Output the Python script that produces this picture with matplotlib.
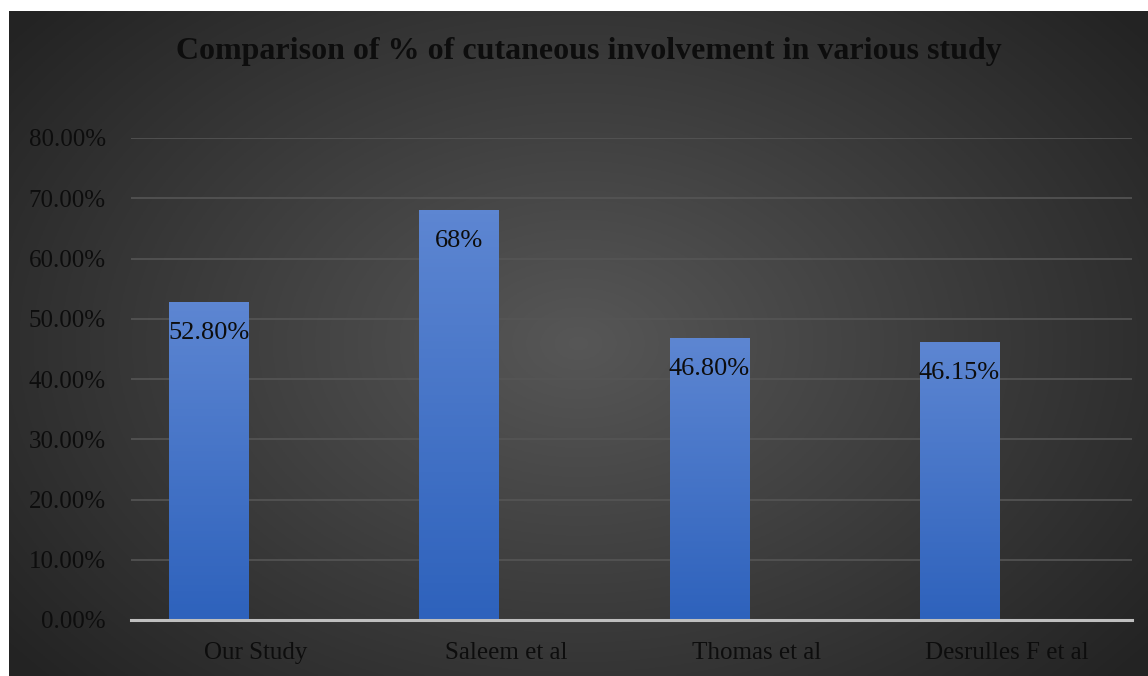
import matplotlib
matplotlib.use("Agg")
import matplotlib.pyplot as plt
import numpy as np
from matplotlib.ticker import FuncFormatter

studies = ["Our Study", "Saleem et al", "Thomas et al", "Desrulles F et al"]
percent = [52.80, 68.0, 46.80, 46.15]
labels = ["52.80%", "68%", "46.80%", "46.15%"]

plt.rcParams['font.family'] = ['Liberation Serif', 'DejaVu Serif']

fig = plt.figure(figsize=(11.48, 6.76), dpi=100)
fig.patch.set_facecolor('white')

# dark radial gradient background
bg = fig.add_axes([9 / 1148, 0, 1139 / 1148, 665 / 676])
bg.set_axis_off()
yy, xx = np.mgrid[-1:1:300j, -1:1:500j]
r = np.sqrt((xx * 0.95) ** 2 + (yy * 0.8) ** 2)
shade = 0.34 - 0.2 * np.clip(r / 1.2, 0, 1)
bg.imshow(np.dstack([shade] * 3), aspect='auto', extent=[0, 1, 0, 1])
bg.set_xlim(0, 1)
bg.set_ylim(0, 1)

ax = fig.add_axes([131 / 1148, 56 / 676, 1001 / 1148, 482 / 676])
ax.patch.set_alpha(0)

x = np.arange(len(studies))
offset = -0.19
width = 0.316
bars = ax.bar(x + offset, percent, width, color='none', zorder=3)

grad = np.linspace(0, 1, 100).reshape(-1, 1)
top_c = np.array([0x5d, 0x86, 0xd2]) / 255
bot_c = np.array([0x2e, 0x62, 0xbc]) / 255
for b in bars:
    x0, w, h = b.get_x(), b.get_width(), b.get_height()
    img = bot_c + grad[..., None] * (top_c - bot_c)
    im = ax.imshow(img, aspect='auto', origin='lower',
                   extent=[x0, x0 + w, 0, h], zorder=3)
    im.set_clip_path(b)

for b, lab in zip(bars, labels):
    ax.text(b.get_x() + b.get_width() / 2, b.get_height() - 3.3, lab,
            ha='center', va='top', fontsize=19, color='#0d0d0d', zorder=4)

ax.set_xlim(-0.5, len(studies) - 0.5)
ax.set_ylim(0, 80)
ax.set_yticks(np.arange(0, 81, 10))
ax.yaxis.set_major_formatter(FuncFormatter(lambda v, p: f"{v:.2f}%"))
ax.set_xticks(x)
ax.set_xticklabels(studies)
ax.tick_params(axis='both', length=0, labelsize=18, labelcolor='#0d0d0d')
ax.tick_params(axis='y', pad=18)
ax.tick_params(axis='x', pad=16)
ax.grid(axis='y', color='#555555', linewidth=1.2, zorder=1)
for s in ['top', 'right', 'left']:
    ax.spines[s].set_visible(False)
ax.spines['bottom'].set_color('#bfbfbf')
ax.spines['bottom'].set_linewidth(2.2)
ax.spines['bottom'].set_zorder(5)

fig.text(589 / 1148, 1 - 51 / 676, "Comparison of % of cutaneous involvement in various study",
         ha='center', va='center', fontsize=23, fontweight='bold', color='#0d0d0d')

fig.savefig("out.png", dpi=100, facecolor=fig.get_facecolor())
